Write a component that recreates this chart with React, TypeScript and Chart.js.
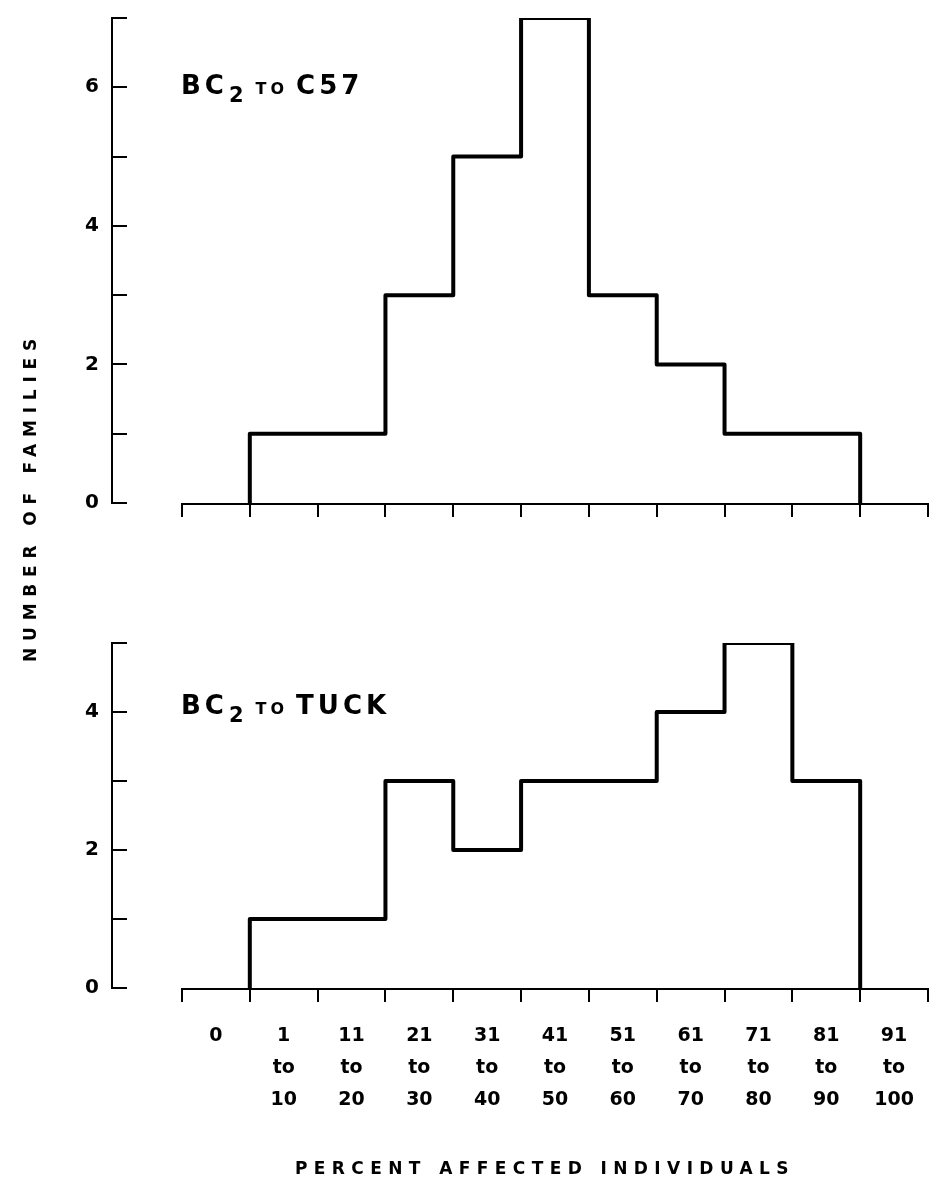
import React, { useEffect, useRef } from "react";
import { Chart, registerables } from "chart.js";

Chart.register(...registerables);

// ---- data ----
const CATEGORY_LABELS: string[][] = [
  ["0"],
  ["1", "to", "10"],
  ["11", "to", "20"],
  ["21", "to", "30"],
  ["31", "to", "40"],
  ["41", "to", "50"],
  ["51", "to", "60"],
  ["61", "to", "70"],
  ["71", "to", "80"],
  ["81", "to", "90"],
  ["91", "to", "100"],
];
const C57_FAMILIES = [0, 1, 1, 3, 5, 7, 3, 2, 1, 1, 0];
const TUCK_FAMILIES = [0, 1, 1, 3, 2, 3, 3, 4, 5, 3, 0];
const C57_Y_MAX = 7;
const TUCK_Y_MAX = 5;
const C57_Y_LABELS = [0, 2, 4, 6];
const TUCK_Y_LABELS = [0, 2, 4];
const X_TITLE = "PERCENT AFFECTED INDIVIDUALS";
const Y_TITLE = "NUMBER OF FAMILIES";

const FONT = "'DejaVu Sans', sans-serif";
const X_MIN = -1.032;

function staircase(values: number[]) {
  const first = values.findIndex((v) => v !== 0);
  let last = values.length - 1;
  while (last > 0 && values[last] === 0) last--;
  const pts: { x: number; y: number }[] = [{ x: first, y: 0 }];
  for (let i = first; i <= last; i++) {
    pts.push({ x: i, y: values[i] });
    pts.push({ x: i + 1, y: values[i] });
  }
  pts.push({ x: last + 1, y: 0 });
  return pts;
}

const axesPlugin = {
  id: "histAxes",
  afterDatasetsDraw(chart: any) {
    const { ctx, scales, chartArea } = chart;
    const x = scales.x;
    const y = scales.y;
    const y0 = Math.round(y.getPixelForValue(0)) + 1;
    const n = CATEGORY_LABELS.length;
    ctx.save();
    ctx.strokeStyle = "#000";
    ctx.lineWidth = 2;
    ctx.beginPath();
    ctx.moveTo(x.getPixelForValue(0) - 1, y0);
    ctx.lineTo(x.getPixelForValue(n) + 1, y0);
    for (let b = 0; b <= n; b++) {
      const px = Math.round(x.getPixelForValue(b));
      ctx.moveTo(px, y0);
      ctx.lineTo(px, y0 + 13);
    }
    const ax = chartArea.left;
    for (let v = 0; v <= y.max; v++) {
      const py = Math.round(y.getPixelForValue(v));
      ctx.moveTo(ax, py);
      ctx.lineTo(ax + 15, py);
    }
    ctx.stroke();
    ctx.restore();
  },
};

function makeConfig(
  values: number[],
  yMax: number,
  yLabels: number[],
  padTop: number,
  xHeight: number,
  showX: boolean
): any {
  return {
    type: "line",
    data: {
      datasets: [
        {
          data: staircase(values),
          borderColor: "#000",
          borderWidth: 4,
          borderJoinStyle: "round",
          pointRadius: 0,
          fill: false,
          tension: 0,
        },
      ],
    },
    plugins: [axesPlugin],
    options: {
      responsive: false,
      animation: false,
      devicePixelRatio: 1,
      layout: { padding: { top: padTop, right: 2, left: 0, bottom: 0 } },
      plugins: { legend: { display: false }, tooltip: { enabled: false } },
      scales: {
        x: {
          type: "linear",
          min: X_MIN,
          max: CATEGORY_LABELS.length,
          grid: { display: false, drawTicks: false },
          border: { display: false },
          afterBuildTicks: (scale: any) => {
            scale.ticks = CATEGORY_LABELS.map((_, i) => ({ value: i + 0.5 }));
          },
          afterFit: (scale: any) => {
            scale.height = xHeight;
            scale.paddingLeft = 0;
            scale.paddingRight = 0;
          },
          ticks: {
            display: showX,
            autoSkip: false,
            maxRotation: 0,
            minRotation: 0,
            padding: 32,
            color: "#000",
            font: { family: FONT, weight: "bold", size: 19, lineHeight: "32px" },
            callback: (_v: any, i: number) => CATEGORY_LABELS[i],
          },
        },
        y: {
          type: "linear",
          min: 0,
          max: yMax,
          grid: { display: false, drawTicks: false },
          border: { display: true, color: "#000", width: 2 },
          afterFit: (scale: any) => {
            scale.width = 112;
            scale.paddingTop = 0;
            scale.paddingBottom = 0;
          },
          ticks: {
            stepSize: 1,
            padding: 13,
            color: "#000",
            font: { family: FONT, weight: "bold", size: 20 },
            callback: (v: number) => (yLabels.includes(v) ? String(v) : ""),
          },
        },
      },
    },
  };
}

const labelStyle: React.CSSProperties = {
  position: "absolute",
  left: 181,
  fontFamily: FONT,
  fontWeight: "bold",
  fontSize: 26,
  lineHeight: "26px",
  letterSpacing: 4,
  whiteSpace: "nowrap",
  color: "#000",
};

function PanelLabel({ top, right }: { top: number; right: string }) {
  return (
    <div style={{ ...labelStyle, top }}>
      BC
      <sub style={{ fontSize: 21, verticalAlign: "baseline", position: "relative", top: 8, marginLeft: 1 }}>2</sub>
      <span style={{ fontSize: 16, letterSpacing: 4, marginLeft: 8, marginRight: 8 }}>TO</span>
      {right}
    </div>
  );
}

export default function App() {
  const topRef = useRef<HTMLCanvasElement>(null);
  const botRef = useRef<HTMLCanvasElement>(null);

  useEffect(() => {
    const c1 = new Chart(topRef.current!, makeConfig(C57_FAMILIES, C57_Y_MAX, C57_Y_LABELS, 18, 37, false));
    const c2 = new Chart(botRef.current!, makeConfig(TUCK_FAMILIES, TUCK_Y_MAX, TUCK_Y_LABELS, 43, 192, true));
    return () => {
      c1.destroy();
      c2.destroy();
    };
  }, []);

  const titleStyle: React.CSSProperties = {
    position: "absolute",
    fontFamily: FONT,
    fontWeight: "bold",
    fontSize: 17,
    whiteSpace: "nowrap",
    color: "#000",
    lineHeight: "20px",
  };

  return (
    <div style={{ position: "absolute", left: 0, top: 0, width: 930, height: 1180, background: "#fff", overflow: "hidden" }}>
      <canvas ref={topRef} width={930} height={540} style={{ position: "absolute", left: 0, top: 0, display: "block" }} />
      <canvas ref={botRef} width={930} height={580} style={{ position: "absolute", left: 0, top: 600, display: "block" }} />
      <PanelLabel top={72} right="C57" />
      <PanelLabel top={692} right="TUCK" />
      <div style={{ ...titleStyle, letterSpacing: 6.4, left: 545, top: 1168, transform: "translate(-50%, -50%)" }}>{X_TITLE}</div>
      <div style={{ ...titleStyle, letterSpacing: 6.8, left: 30, top: 497, transform: "translate(-50%, -50%) rotate(-90deg)" }}>{Y_TITLE}</div>
    </div>
  );
}
